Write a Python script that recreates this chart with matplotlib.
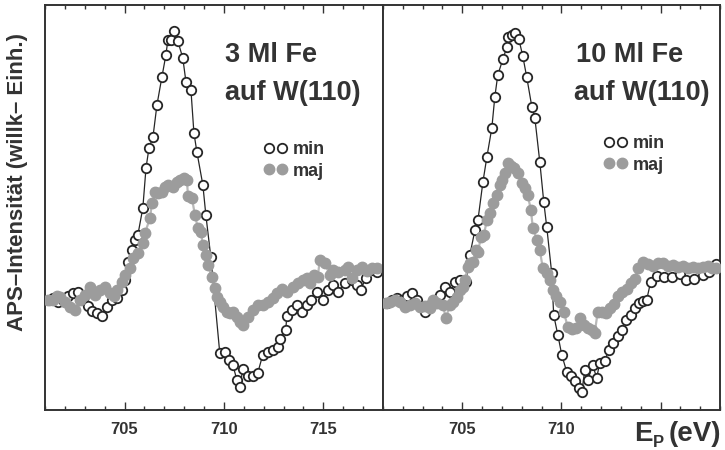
import matplotlib
matplotlib.use("Agg")
import matplotlib.pyplot as plt
from matplotlib.lines import Line2D
from matplotlib.ticker import MultipleLocator, FixedLocator

plt.rcParams['font.family'] = ['Liberation Sans', 'DejaVu Sans']

# ---------------- data ----------------
# Panel 1: 3 Ml Fe auf W(110)
e3_min = [701.25, 701.40, 701.65, 701.90, 702.16, 702.41, 702.66, 702.91, 703.16, 703.36,
          703.61, 703.86, 704.12, 704.37, 704.62, 704.87, 705.02, 705.17, 705.37, 705.52,
          705.67, 705.92, 706.08, 706.23, 706.43, 706.63, 706.88, 707.08, 707.18, 707.33,
          707.48, 707.68, 707.93, 708.09, 708.34, 708.49, 708.64, 708.94, 709.09, 709.34,
          709.79, 710.05, 710.25, 710.45, 710.65, 710.80, 710.95, 711.20, 711.45, 711.70,
          711.95, 712.21, 712.46, 712.71, 712.81, 713.11, 713.16, 713.41, 713.66, 713.91,
          714.17, 714.37, 714.67, 714.97, 715.22, 715.47, 715.72, 716.08, 716.43, 716.68,
          716.88, 717.13, 717.43, 717.68]
i3_min = [27.5, 28.0, 27.0, 27.5, 28.5, 29.25, 29.5, 27.5, 26.0, 24.75,
          24.25, 23.5, 25.75, 27.5, 28.0, 30.0, 32.5, 37.0, 40.0, 42.5,
          43.75, 50.5, 60.5, 65.5, 68.25, 76.25, 83.25, 88.75, 92.5, 92.5,
          94.75, 92.25, 88.0, 82.0, 80.0, 69.25, 64.5, 56.25, 48.75, 38.25,
          14.25, 14.5, 12.5, 11.25, 7.5, 5.75, 10.25, 8.5, 8.5, 9.25,
          13.75, 14.5, 15.0, 15.75, 17.75, 20.0, 23.5, 25.0, 26.25, 24.5,
          26.25, 27.5, 29.5, 27.5, 30.0, 31.25, 29.5, 31.75, 32.5, 31.25,
          30.0, 33.0, 35.0, 34.5]

e3_maj = [701.15, 701.40, 701.60, 701.75, 702.01, 702.26, 702.51, 702.76, 703.01, 703.26,
          703.51, 703.76, 704.02, 704.27, 704.47, 704.62, 704.87, 705.02, 705.27, 705.42,
          705.67, 705.92, 706.03, 706.28, 706.38, 706.53, 706.68, 706.88, 707.03, 707.18,
          707.43, 707.63, 707.78, 707.98, 708.14, 708.19, 708.39, 708.54, 708.69, 708.84,
          708.94, 709.09, 709.19, 709.39, 709.54, 709.64, 709.79, 709.94, 710.15, 710.30,
          710.45, 710.65, 710.80, 710.95, 711.20, 711.45, 711.70, 711.95, 712.21, 712.46,
          712.66, 712.91, 713.16, 713.46, 713.71, 713.96, 714.17, 714.32, 714.52, 714.72,
          714.82, 715.07, 715.32, 715.47, 715.72, 716.08, 716.23, 716.43, 716.68, 716.93,
          717.18, 717.43, 717.68]
i3_maj = [27.5, 27.5, 28.5, 28.25, 27.0, 25.75, 25.0, 27.5, 28.75, 30.75,
          28.75, 30.0, 30.75, 29.25, 28.5, 30.0, 32.0, 33.75, 35.5, 38.0,
          39.25, 41.75, 44.25, 48.0, 51.75, 54.5, 54.25, 54.5, 55.75, 56.25,
          55.75, 57.0, 57.5, 58.0, 57.5, 53.5, 53.0, 48.75, 45.5, 44.5,
          41.25, 38.75, 36.25, 33.25, 30.5, 28.25, 27.0, 25.75, 24.5, 24.25,
          24.5, 23.25, 22.0, 21.25, 23.25, 25.0, 26.25, 26.25, 27.0, 28.0,
          29.25, 30.25, 29.5, 30.75, 31.75, 32.5, 33.0, 31.75, 33.75, 33.25,
          37.5, 36.75, 33.75, 35.0, 34.5, 35.0, 35.75, 33.0, 35.0, 35.75,
          34.75, 35.5, 35.5]

# Panel 2: 10 Ml Fe auf W(110)
e10_min = [701.20, 701.45, 701.71, 701.96, 702.21, 702.46, 702.71, 702.91, 703.12, 703.37,
           703.62, 703.87, 704.13, 704.38, 704.63, 704.88, 705.18, 705.38, 705.64, 705.79,
           706.04, 706.24, 706.49, 706.64, 706.79, 707.05, 707.25, 707.30, 707.50, 707.65,
           707.85, 708.05, 708.25, 708.51, 708.66, 708.91, 709.11, 709.26, 709.51, 709.61,
           709.82, 710.02, 710.27, 710.47, 710.67, 710.87, 711.03, 711.18, 711.33, 711.58,
           711.78, 711.93, 712.18, 712.39, 712.59, 712.84, 713.04, 713.24, 713.49, 713.70,
           713.90, 714.10, 714.30, 714.50, 714.80, 715.16, 715.56, 715.96, 716.31, 716.67,
           717.12, 717.47, 717.78]
i10_min = [26.75, 27.5, 28.0, 27.5, 28.5, 29.25, 27.5, 26.0, 24.5, 26.25,
           27.5, 28.75, 30.75, 29.5, 32.0, 32.5, 32.0, 38.75, 45.0, 47.5,
           57.0, 63.25, 70.5, 78.25, 83.75, 87.75, 90.75, 93.25, 93.75, 94.25,
           92.75, 88.5, 83.25, 75.75, 73.0, 62.0, 52.0, 45.75, 34.25, 23.75,
           18.75, 13.75, 9.5, 8.5, 7.25, 5.5, 4.5, 10.0, 7.5, 11.25,
           8.0, 11.75, 12.25, 15.0, 16.75, 18.5, 20.0, 22.5, 23.75, 25.5,
           26.75, 27.25, 27.5, 32.0, 33.5, 33.25, 33.25, 34.0, 32.5, 32.75,
           33.75, 34.5, 36.5]

e10_maj = [701.15, 701.35, 701.61, 701.86, 702.11, 702.36, 702.61, 702.86, 703.12, 703.37,
           703.52, 703.72, 704.02, 704.17, 704.38, 704.53, 704.73, 704.88, 705.03, 705.13,
           705.28, 705.38, 705.53, 705.69, 705.79, 705.94, 706.09, 706.24, 706.39, 706.53,
           706.74, 706.89, 706.99, 707.15, 707.30, 707.45, 707.60, 707.80, 708.00, 708.15,
           708.30, 708.46, 708.56, 708.76, 708.91, 709.06, 709.26, 709.41, 709.56, 709.72,
           709.92, 710.12, 710.32, 710.52, 710.72, 710.92, 711.13, 711.33, 711.53, 711.68,
           711.83, 712.03, 712.23, 712.44, 712.64, 712.84, 713.04, 713.29, 713.49, 713.70,
           713.85, 714.10, 714.35, 714.60, 714.85, 715.11, 715.36, 715.61, 715.86, 716.11,
           716.37, 716.62, 716.87, 717.12, 717.37, 717.62, 717.82]
i10_maj = [26.75, 27.0, 27.5, 27.0, 25.75, 26.25, 26.75, 25.75, 26.0, 25.5,
           27.5, 26.75, 26.25, 23.0, 26.25, 27.0, 28.25, 30.0, 30.75, 32.5,
           35.75, 36.75, 37.0, 40.0, 39.5, 43.25, 43.75, 47.5, 49.25, 51.75,
           53.75, 56.25, 57.5, 59.25, 61.75, 61.0, 60.5, 59.25, 56.75, 55.5,
           53.75, 50.0, 45.5, 42.5, 40.0, 35.5, 34.25, 32.5, 30.0, 28.5,
           27.0, 24.5, 20.75, 20.25, 20.5, 23.0, 21.25, 20.5, 20.0, 19.25,
           24.5, 24.5, 24.25, 25.5, 26.5, 28.5, 29.5, 30.25, 31.75, 32.75,
           35.5, 37.0, 36.5, 36.0, 36.75, 36.75, 36.0, 36.25, 35.75, 36.0,
           35.5, 35.75, 35.5, 35.75, 36.0, 35.5, 35.5]

series_labels = ["min", "maj"]
major_ticks = [705, 710, 715]
tick_labels_left = ["705", "710", "715"]
tick_labels_right = ["705", "710", ""]
ylabel = "APS\u2013Intensität (willk\u2013 Einh.)"

# ---------------- styling ----------------
TXT = "#333333"
MIN_C = "#262626"
MAJ_C = "#9c9c9c"
MAJ_LINE = "#b8b8b8"

fig = plt.figure(figsize=(7.25, 4.5), dpi=100)
W, H = 725.0, 450.0
def fx(px): return px / W
def fy(py): return 1 - py / H

ax1 = fig.add_axes([fx(45), fy(410), fx(383) - fx(45), fy(5) - fy(410)])
ax2 = fig.add_axes([fx(383), fy(410), fx(720) - fx(383), fy(5) - fy(410)])

panels = [
    (ax1, e3_min, i3_min, e3_maj, i3_maj, tick_labels_left),
    (ax2, e10_min, i10_min, e10_maj, i10_maj, tick_labels_right),
]

for ax, em, im, ej, ij, tl in panels:
    ax.plot(em, im, '-', color=MIN_C, lw=0.9, zorder=2)
    ax.plot(em, im, 'o', ls='none', mfc='white', mec=MIN_C, mew=1.3, ms=6.8, zorder=3)
    ax.plot(ej, ij, '-', color=MAJ_LINE, lw=1.6, zorder=4)
    ax.plot(ej, ij, 'o', ls='none', mfc=MAJ_C, mec=MAJ_C, ms=7.5, zorder=5)
    ax.set_xlim(701, 718)
    ax.set_ylim(0, 101.25)
    ax.xaxis.set_major_locator(FixedLocator(major_ticks))
    ax.set_xticklabels(tl)
    ax.xaxis.set_minor_locator(MultipleLocator(1))
    ax.tick_params(axis='x', which='both', direction='in', top=True, bottom=True,
                   color=TXT, width=1.0, labelcolor=TXT, labelsize=12, pad=9)
    ax.tick_params(axis='x', which='major', length=6)
    ax.tick_params(axis='x', which='minor', length=3)
    ax.set_yticks([])
    for lab in ax.get_xticklabels():
        lab.set_fontweight('bold')
    for s in ax.spines.values():
        s.set_color(TXT)
        s.set_linewidth(1.4)

# panel titles
title_kw = dict(fontsize=19.5, fontweight='bold', color=TXT, ha='left', va='baseline')
fig.text(fx(225), fy(62), "3 Ml Fe", **title_kw)
fig.text(fx(225), fy(100), "auf W(110)", **title_kw)
fig.text(fx(576), fy(62), "10 Ml Fe", **title_kw)
fig.text(fx(574), fy(100), "auf W(110)", **title_kw)

# legends
handles = [Line2D([], [], marker='o', ls='none', mfc='white', mec=MIN_C, mew=1.3, ms=6.8),
           Line2D([], [], marker='o', ls='none', mfc=MAJ_C, mec=MAJ_C, ms=7.5)]
for ax, (lx, ly) in [(ax1, (255, 132)), (ax2, (595, 126))]:
    ax.legend(handles, series_labels, numpoints=2, frameon=False, loc='upper left',
              bbox_to_anchor=(fx(lx), fy(ly)), bbox_transform=fig.transFigure,
              handlelength=1.3, handletextpad=0.3, labelspacing=0.25, borderpad=0,
              prop={'weight': 'bold', 'size': 13}, labelcolor=TXT)

# axis labels
fig.text(fx(18), fy(182), ylabel, rotation=90, fontsize=16, fontweight='bold',
         color=TXT, ha='center', va='center')
fig.text(fx(634), fy(441), "E", fontsize=20, fontweight='bold', color=TXT, ha='left', va='baseline')
fig.text(fx(653), fy(447), "P", fontsize=12, fontweight='bold', color=TXT, ha='left', va='baseline')
fig.text(fx(669), fy(441), "(eV)", fontsize=20, fontweight='bold', color=TXT, ha='left', va='baseline')

fig.savefig("out.png", dpi=100, facecolor='white')
